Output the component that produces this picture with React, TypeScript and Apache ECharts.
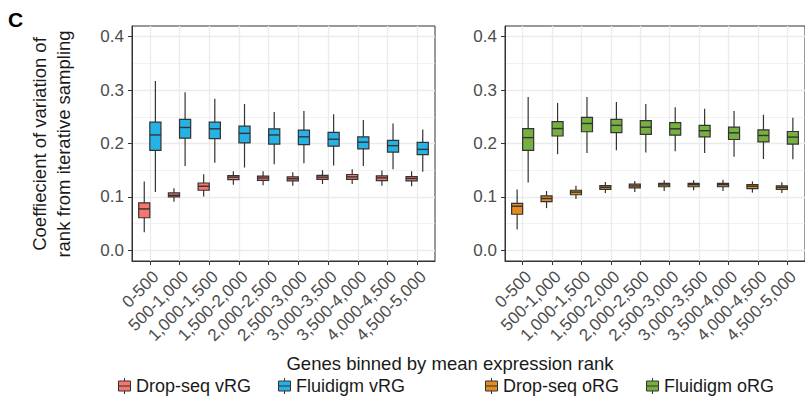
import React, { useEffect, useRef } from 'react';
import * as echarts from 'echarts';

const binLabels = [
  '0-500', '500-1,000', '1,000-1,500', '1,500-2,000', '2,000-2,500',
  '2,500-3,000', '3,000-3,500', '3,500-4,000', '4,000-4,500', '4,500-5,000',
];
const yTicks = [0, 0.1, 0.2, 0.3, 0.4];
const yMinorTicks = [0.05, 0.15, 0.25, 0.35];

// each row: [lower whisker, Q1, median, Q3, upper whisker]
const dropSeqVRG = [
  [0.034, 0.061, 0.0775, 0.089, 0.129],
  [0.091, 0.1, 0.103, 0.1075, 0.116],
  [0.101, 0.1125, 0.12, 0.126, 0.1425],
  [0.123, 0.1325, 0.137, 0.14, 0.148],
  [0.122, 0.131, 0.1355, 0.139, 0.148],
  [0.121, 0.13, 0.134, 0.1375, 0.146],
  [0.124, 0.133, 0.137, 0.1405, 0.15],
  [0.124, 0.133, 0.1375, 0.142, 0.152],
  [0.121, 0.1306, 0.1356, 0.1394, 0.1494],
  [0.12, 0.13, 0.1345, 0.138, 0.148],
];
const fluidigmVRG = [
  [0.109, 0.187, 0.216, 0.24, 0.317],
  [0.158, 0.21, 0.23, 0.245, 0.296],
  [0.164, 0.209, 0.2275, 0.24, 0.284],
  [0.155, 0.201, 0.219, 0.2325, 0.274],
  [0.161, 0.199, 0.216, 0.2275, 0.259],
  [0.163, 0.198, 0.2125, 0.225, 0.261],
  [0.159, 0.195, 0.208, 0.221, 0.255],
  [0.158, 0.19, 0.2025, 0.2125, 0.244],
  [0.152, 0.184, 0.196, 0.206, 0.2375],
  [0.147, 0.179, 0.189, 0.202, 0.226],
];
const dropSeqORG = [
  [0.039, 0.0675, 0.0825, 0.088, 0.114],
  [0.079, 0.091, 0.097, 0.102, 0.111],
  [0.096, 0.104, 0.109, 0.1125, 0.121],
  [0.1075, 0.114, 0.118, 0.121, 0.128],
  [0.109, 0.117, 0.1205, 0.124, 0.13],
  [0.111, 0.119, 0.1225, 0.1255, 0.131],
  [0.1125, 0.119, 0.123, 0.1255, 0.131],
  [0.111, 0.119, 0.123, 0.1255, 0.132],
  [0.108, 0.1155, 0.12, 0.123, 0.129],
  [0.1075, 0.114, 0.118, 0.1205, 0.1275],
];
const fluidigmORG = [
  [0.127, 0.187, 0.211, 0.228, 0.287],
  [0.18, 0.214, 0.228, 0.241, 0.276],
  [0.182, 0.222, 0.2375, 0.249, 0.287],
  [0.1875, 0.2205, 0.234, 0.245, 0.2775],
  [0.183, 0.217, 0.2305, 0.243, 0.274],
  [0.1855, 0.2155, 0.2275, 0.239, 0.268],
  [0.182, 0.2125, 0.224, 0.234, 0.265],
  [0.175, 0.2075, 0.22, 0.2305, 0.261],
  [0.171, 0.203, 0.215, 0.2255, 0.254],
  [0.1705, 0.199, 0.212, 0.2225, 0.248],
];

const FONT = '"Liberation Sans", Arial, Helvetica, sans-serif';
const DARK = '#333333';
const GRID_C = '#EBEBEB';
const BOX_W = 0.375;
const COLORS = {
  dropV: '#F8766D',
  fluV: '#27B2E6',
  dropO: '#E38B22',
  fluO: '#77B041',
};

const legendIcon =
  'path://M6,0 L6,3 M0,3 L12,3 L12,13 L0,13 Z M0,8 L12,8 M6,13 L6,16';

function makeRender(offset: number, color: string) {
  return (params: any, api: any) => {
    const x = api.value(0);
    const lo = api.value(1);
    const q1 = api.value(2);
    const med = api.value(3);
    const q3 = api.value(4);
    const hi = api.value(5);
    const left = x + offset;
    const right = left + BOX_W;
    const center = left + BOX_W / 2;
    const tl = api.coord([left, q3]);
    const br = api.coord([right, q1]);
    const pHi = api.coord([center, hi]);
    const pLo = api.coord([center, lo]);
    const mL = api.coord([left, med]);
    const mR = api.coord([right, med]);
    const lineStyle = { stroke: DARK, lineWidth: 1.2 };
    return {
      type: 'group',
      children: [
        { type: 'line', shape: { x1: pHi[0], y1: pHi[1], x2: pLo[0], y2: pLo[1] }, style: lineStyle },
        {
          type: 'rect',
          shape: { x: tl[0], y: tl[1], width: br[0] - tl[0], height: br[1] - tl[1] },
          style: { fill: color, stroke: DARK, lineWidth: 1.2 },
        },
        { type: 'line', shape: { x1: mL[0], y1: mL[1], x2: mR[0], y2: mR[1] }, style: { stroke: DARK, lineWidth: 1.4 } },
      ],
    };
  };
}

function toData(arr: number[][]) {
  return arr.map((row, i) => [i, ...row]);
}

function boxSeries(name: string, arr: number[][], idx: number, offset: number, color: string) {
  return {
    type: 'custom',
    name,
    xAxisIndex: idx,
    yAxisIndex: idx * 2,
    itemStyle: { color },
    encode: { x: 0, y: [1, 2, 3, 4, 5] },
    data: toData(arr),
    renderItem: makeRender(offset, color),
  };
}

function xAxisCfg(gridIndex: number) {
  const ticks = binLabels.map((_, i) => i);
  return {
    type: 'value',
    gridIndex,
    position: 'bottom',
    min: -0.6,
    max: 9.6,
    axisLine: { show: true, onZero: false, lineStyle: { color: DARK, width: 1 } },
    axisTick: { show: true, length: 4, customValues: ticks, lineStyle: { color: DARK, width: 1 } },
    axisLabel: {
      customValues: ticks,
      formatter: (v: number) => binLabels[Math.round(v)] ?? '',
      rotate: 45,
      align: 'right',
      verticalAlign: 'top',
      margin: 7,
      fontSize: 17,
      color: '#4D4D4D',
      fontFamily: FONT,
    },
    splitLine: { show: true, lineStyle: { color: GRID_C, width: 1.3 } },
  };
}

function yAxesCfg(gridIndex: number) {
  return [
    {
      type: 'value',
      gridIndex,
      position: 'left',
      min: -0.02,
      max: 0.42,
      axisLine: { show: true, onZero: false, lineStyle: { color: DARK, width: 1 } },
      axisTick: { show: true, length: 4, customValues: yTicks, lineStyle: { color: DARK, width: 1 } },
      axisLabel: {
        customValues: yTicks,
        formatter: (v: number) => v.toFixed(1),
        margin: 8,
        fontSize: 17,
        color: '#4D4D4D',
        fontFamily: FONT,
      },
      splitLine: { show: true, lineStyle: { color: GRID_C, width: 1.3 } },
    },
    {
      type: 'value',
      gridIndex,
      position: 'left',
      min: -0.02,
      max: 0.42,
      axisLine: { show: false, onZero: false },
      axisTick: { show: false, customValues: yMinorTicks },
      axisLabel: { show: false, customValues: yMinorTicks },
      splitLine: { show: true, lineStyle: { color: GRID_C, width: 0.7 } },
    },
  ];
}

function legendCfg(left: number, names: string[], colors: string[]) {
  return {
    left,
    top: 377,
    padding: 0,
    orient: 'horizontal',
    itemGap: 27,
    itemWidth: 13,
    itemHeight: 16,
    selectedMode: false,
    textStyle: { fontSize: 18, color: '#1A1A1A', fontFamily: FONT },
    data: names.map((n, i) => ({
      name: n,
      icon: legendIcon,
      itemStyle: { color: colors[i], borderColor: DARK, borderWidth: 1 },
    })),
  };
}

export default function App() {
  const ref = useRef<HTMLDivElement>(null);
  useEffect(() => {
    if (!ref.current) return;
    const chart = echarts.init(ref.current, null, { renderer: 'svg' });
    const option = {
      animation: false,
      backgroundColor: '#ffffff',
      grid: [
        { left: 132, top: 26, width: 303, height: 235, show: true, borderColor: DARK, borderWidth: 1, backgroundColor: '#fff' },
        { left: 505, top: 26, width: 303, height: 235, show: true, borderColor: DARK, borderWidth: 1, backgroundColor: '#fff' },
      ],
      xAxis: [xAxisCfg(0), xAxisCfg(1)],
      yAxis: [...yAxesCfg(0), ...yAxesCfg(1)],
      legend: [
        legendCfg(118, ['Drop-seq vRG', 'Fluidigm vRG'], [COLORS.dropV, COLORS.fluV]),
        legendCfg(485, ['Drop-seq oRG', 'Fluidigm oRG'], [COLORS.dropO, COLORS.fluO]),
      ],
      graphic: [
        {
          type: 'text',
          x: 8,
          y: 19,
          style: { text: 'C', font: `bold 21px ${FONT}`, fill: '#000', textAlign: 'left', textVerticalAlign: 'middle' },
        },
        {
          type: 'text',
          x: 51,
          y: 144,
          rotation: Math.PI / 2,
          style: {
            text: 'Coeffiecient of variation of\nrank from iterative sampling',
            font: `18.5px ${FONT}`,
            lineHeight: 24,
            fill: '#1A1A1A',
            textAlign: 'center',
            textVerticalAlign: 'middle',
          },
        },
        {
          type: 'text',
          x: 450,
          y: 363,
          style: {
            text: 'Genes binned by mean expression rank',
            font: `18.5px ${FONT}`,
            fill: '#1A1A1A',
            textAlign: 'center',
            textVerticalAlign: 'middle',
          },
        },
      ],
      series: [
        boxSeries('Drop-seq vRG', dropSeqVRG, 0, -BOX_W, COLORS.dropV),
        boxSeries('Fluidigm vRG', fluidigmVRG, 0, 0, COLORS.fluV),
        boxSeries('Drop-seq oRG', dropSeqORG, 1, -BOX_W, COLORS.dropO),
        boxSeries('Fluidigm oRG', fluidigmORG, 1, 0, COLORS.fluO),
      ],
    };
    chart.setOption(option as any);
    return () => chart.dispose();
  }, []);
  return (
    <div
      ref={ref}
      style={{ position: 'absolute', left: 0, top: 0, width: 805, height: 400, background: '#fff' }}
    />
  );
}
